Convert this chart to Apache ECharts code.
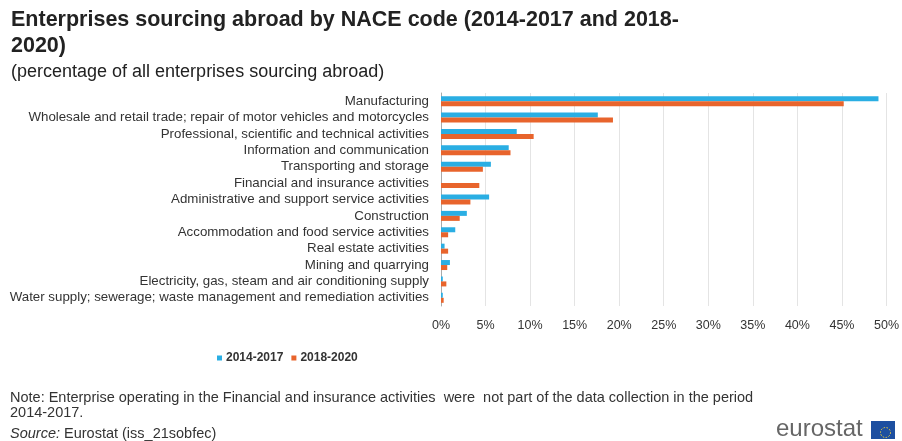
<!DOCTYPE html>
<html>
<head>
<meta charset="utf-8">
<script src="https://cdn.jsdelivr.net/npm/echarts@6/dist/echarts.min.js"></script>
<style>
  html, body { margin: 0; padding: 0; background: #fff; }
  #chart { width: 902px; height: 441px; }
</style>
</head>
<body>
<div id="chart"></div>
<script>
// NACE sections, top to bottom
const categories = [
  'Manufacturing',
  'Wholesale and retail trade; repair of motor vehicles and motorcycles',
  'Professional, scientific and technical activities',
  'Information and communication',
  'Transporting and storage',
  'Financial and insurance activities',
  'Administrative and support service activities',
  'Construction',
  'Accommodation and food service activities',
  'Real estate activities',
  'Mining and quarrying',
  'Electricity, gas, steam and air conditioning supply',
  'Water supply; sewerage; waste management and remediation activities'
];

// Share of all enterprises sourcing abroad (%)
const period1Name = '2014-2017';
const period1 = [49.1, 17.6, 8.5, 7.6, 5.6, null, 5.4, 2.9, 1.6, 0.4, 1.0, 0.2, 0.2];

const period2Name = '2018-2020';
const period2 = [45.2, 19.3, 10.4, 7.8, 4.7, 4.3, 3.3, 2.1, 0.8, 0.8, 0.7, 0.6, 0.3];

const xTicks = { min: 0, max: 50, interval: 5 };

const BLUE = '#2AAEE3';
const ORANGE = '#E8642C';
const FONT = '"Liberation Sans", Arial, sans-serif';

const chart = echarts.init(document.getElementById('chart'), null, { renderer: 'canvas' });

chart.setOption({
  backgroundColor: '#fff',
  animation: false,
  textStyle: { fontFamily: FONT },
  title: [
    {
      text: 'Enterprises sourcing abroad by NACE code (2014-2017 and 2018-\n2020)',
      left: 6, top: 2,
      textStyle: { fontFamily: FONT, fontSize: 21.5, fontWeight: 'bold', color: '#222', lineHeight: 26 }
    },
    {
      text: '(percentage of all enterprises sourcing abroad)',
      left: 6, top: 58,
      textStyle: { fontFamily: FONT, fontSize: 18, fontWeight: 'normal', color: '#222' }
    }
  ],
  legend: {
    data: [period1Name, period2Name],
    left: 212, top: 347,
    itemWidth: 5, itemHeight: 5, itemGap: 8,
    icon: 'rect',
    textStyle: { fontFamily: FONT, fontSize: 12, fontWeight: 'bold', color: '#333', padding: [0, 0, 0, -1] }
  },
  grid: { left: 441, right: 15, top: 93, bottom: 135, containLabel: false },
  xAxis: {
    type: 'value',
    min: xTicks.min, max: xTicks.max, interval: xTicks.interval,
    axisLabel: { formatter: '{value}%', fontSize: 12.5, color: '#333', margin: 13 },
    axisLine: { show: false },
    axisTick: { show: false },
    splitLine: { lineStyle: { color: '#e4e4e4', width: 1 } }
  },
  yAxis: {
    type: 'category',
    data: categories,
    inverse: true,
    axisLabel: { interval: 0, fontSize: 13.3, color: '#333', margin: 12 },
    axisLine: { lineStyle: { color: '#aaa' } },
    axisTick: { interval: 0, length: 4, lineStyle: { color: '#aaa' } }
  },
  series: [
    {
      name: period1Name, type: 'bar', data: period1,
      itemStyle: { color: BLUE },
      barWidth: 5, barGap: '0%'
    },
    {
      name: period2Name, type: 'bar', data: period2,
      itemStyle: { color: ORANGE },
      barWidth: 5, barGap: '0%'
    }
  ],
  graphic: [
    {
      type: 'text', left: 10, top: 390,
      style: {
        text: 'Note: Enterprise operating in the Financial and insurance activities  were  not part of the data collection in the period\n2014-2017.',
        font: '14.5px ' + FONT, fill: '#333', lineHeight: 15
      }
    },
    {
      type: 'text', left: 10, top: 426,
      style: {
        text: '{i|Source:} Eurostat (iss_21sobfec)',
        font: '14.5px ' + FONT, fill: '#333',
        rich: { i: { fontStyle: 'italic', fontFamily: FONT, fontSize: 14.5, fill: '#333' } }
      }
    },
    {
      type: 'text', left: 776, top: 417,
      style: { text: 'eurostat', font: '24px ' + FONT, fill: '#666' }
    },
    {
      type: 'rect', left: 871, top: 421, shape: { width: 24, height: 18 },
      style: { fill: '#1d4fa0' }
    },
    {
      type: 'circle', left: 878, top: 425, shape: { r: 5 },
      style: { fill: 'none', stroke: '#f2d33a', lineWidth: 1, lineDash: [1.5, 1.5] }
    }
  ]
});
</script>
</body>
</html>
